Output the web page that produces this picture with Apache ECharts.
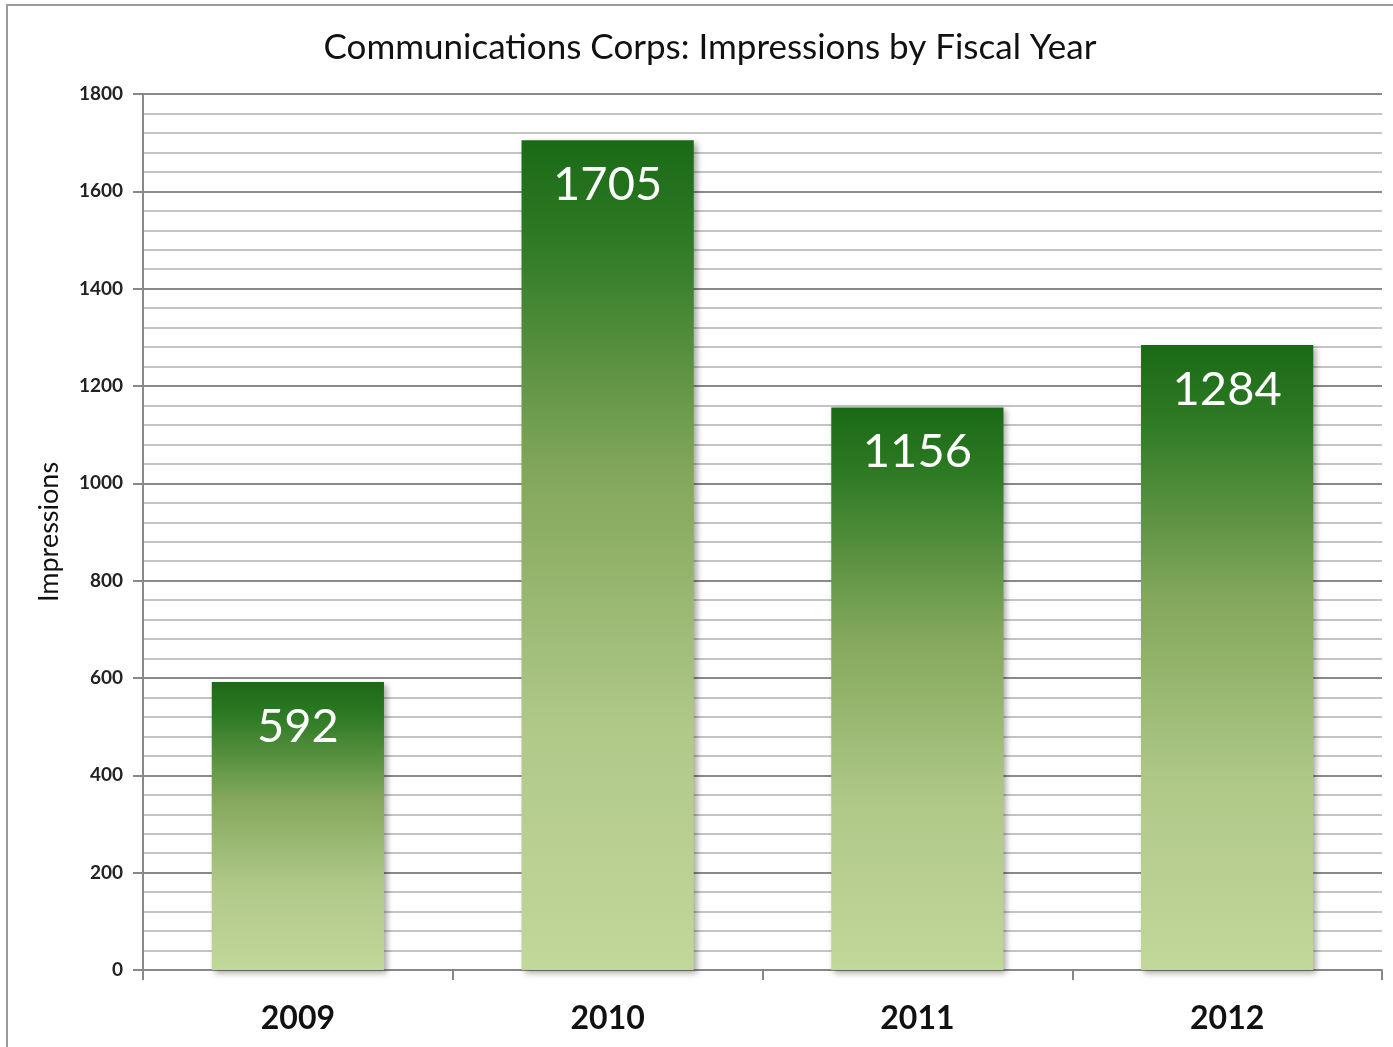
<!DOCTYPE html>
<html><head><meta charset="utf-8">
<script src="https://cdn.jsdelivr.net/npm/echarts@6/dist/echarts.min.js"></script>
<style>html,body{margin:0;padding:0;background:#fff}#c{width:1393px;height:1047px}</style>
</head><body><div id="c"></div>
<script>
const categories = ['2009', '2010', '2011', '2012'];
const impressions = [592, 1705, 1156, 1284];
const yTicks = [0, 200, 400, 600, 800, 1000, 1200, 1400, 1600, 1800];

const chart = echarts.init(document.getElementById('c'));
const fontFam = 'Lato, "Open Sans", sans-serif';
chart.setOption({
  animation: false,
  backgroundColor: '#fff',
  graphic: [{
    type: 'rect', shape: {x: 7, y: 5, width: 1500, height: 1200},
    style: {fill: 'none', stroke: '#9a9a9a', lineWidth: 2}, z: -1
  }],
  title: {
    text: 'Communications Corps: Impressions by Fiscal Year',
    left: 705, top: 25, textAlign: 'center',
    textStyle: {fontFamily: fontFam, fontSize: 35, fontWeight: 'normal', color: '#111'}
  },
  grid: {left: 143, right: 11, top: 94, bottom: 77},
  xAxis: {
    type: 'category', data: categories,
    axisLine: {lineStyle: {color: '#888', width: 2}},
    axisTick: {show: true, length: 10, lineStyle: {color: '#888', width: 2}},
    axisLabel: {fontFamily: fontFam, fontSize: 32, fontWeight: 'bold', color: '#111', margin: 33}
  },
  yAxis: {
    type: 'value', min: yTicks[0], max: yTicks[yTicks.length - 1], interval: 200,
    name: 'Impressions', nameLocation: 'middle', nameGap: 80,
    nameTextStyle: {fontFamily: fontFam, fontSize: 27, color: '#111'},
    axisLine: {show: true, lineStyle: {color: '#888', width: 2}},
    axisTick: {show: true, length: 10, lineStyle: {color: '#888', width: 2}},
    axisLabel: {fontFamily: fontFam, fontSize: 19, fontWeight: 'bold', color: '#222', margin: 20,
      formatter: v => String(v)},
    splitLine: {lineStyle: {color: '#8a8a8a', width: 2}},
    minorTick: {show: false, splitNumber: 5},
    minorSplitLine: {show: true, lineStyle: {color: '#c4c4c4', width: 2}}
  },
  series: [{
    type: 'bar', data: impressions, barWidth: '55.6%',
    itemStyle: {
      color: new echarts.graphic.LinearGradient(0, 0, 0, 1, [
        {offset: 0, color: '#1a6a15'},
        {offset: 0.12, color: '#2e7a25'},
        {offset: 0.4, color: '#82a75a'},
        {offset: 0.7, color: '#afc888'},
        {offset: 1, color: '#c2d79a'}
      ]),
      shadowColor: 'rgba(0,0,0,0.35)', shadowBlur: 6, shadowOffsetX: 3, shadowOffsetY: 3
    },
    label: {
      show: true, position: 'insideTop', distance: 21,
      fontFamily: fontFam, fontSize: 47, color: '#fff'
    }
  }]
});
</script></body></html>
